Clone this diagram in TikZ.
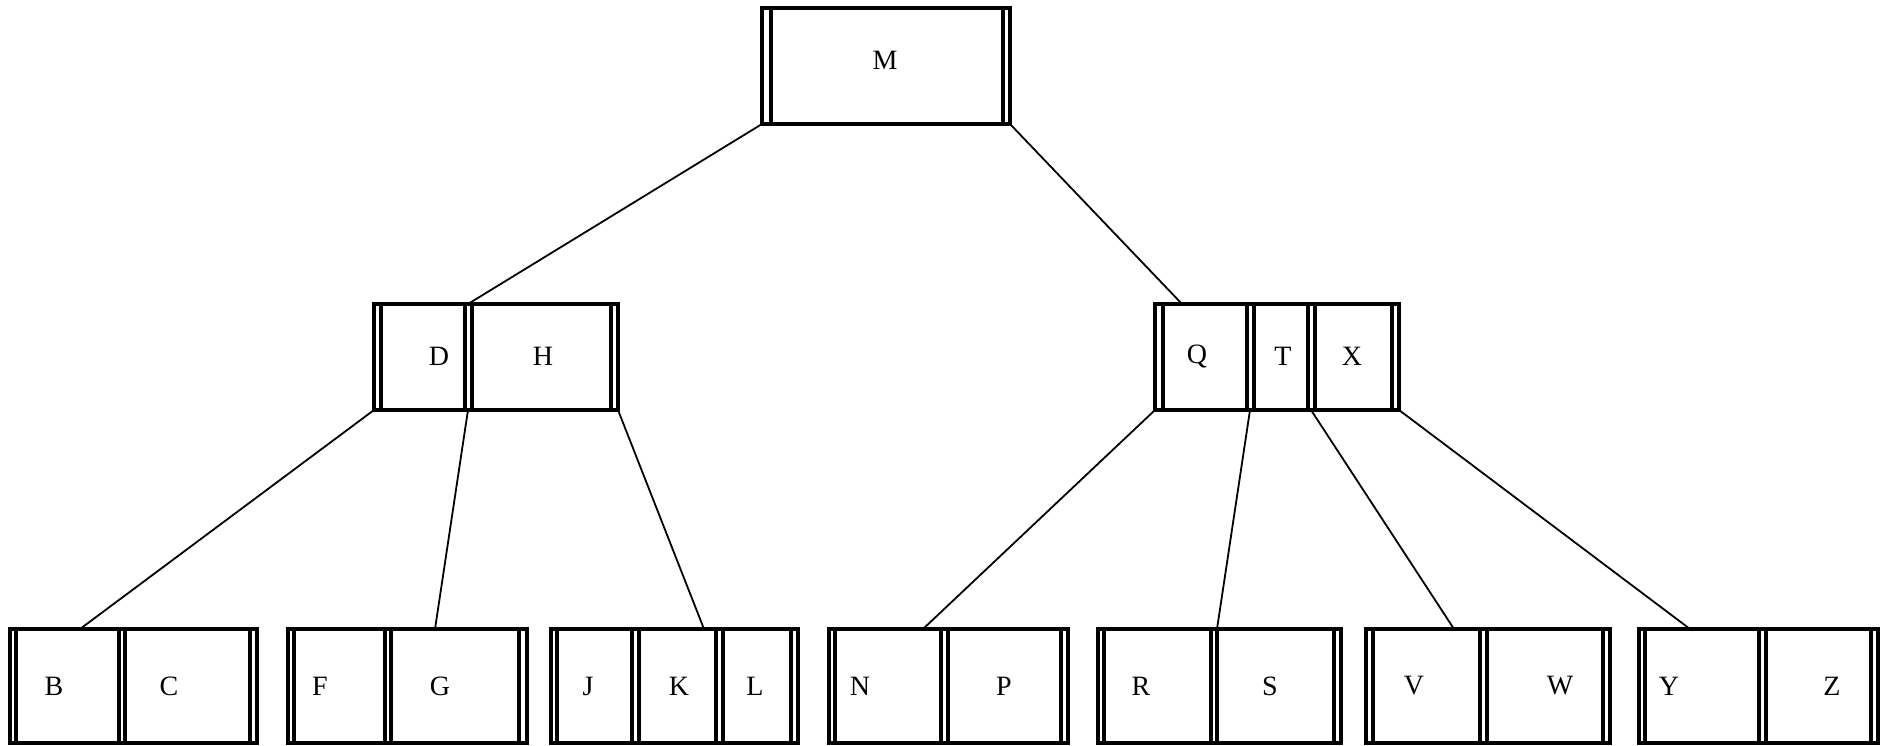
\documentclass[tikz,border=0pt]{standalone}
\usepackage{fontspec}
\setmainfont{Liberation Serif}
\tikzset{
  keyline/.style={line width=1.6pt},
  ptrline/.style={line width=0.9pt},
  key/.style={inner sep=0pt,font=\fontsize{14}{14}\selectfont},
}
\begin{document}
\begin{tikzpicture}[x=0.5pt,y=-0.5pt]
  \useasboundingbox (0,0) rectangle (1884,745);
  % root
  \draw[keyline] (762,8) rectangle (1010,124);
  \foreach \x in {771,1003} \draw[keyline] (\x,8) -- (\x,124);
  \node[key] (m) at (885,60) {M};
  \coordinate (m-p0) at (762,124);
  \coordinate (m-p1) at (1010,124);
  % second level
  \draw[keyline] (374,304) rectangle (618,410);
  \foreach \x in {381,465,472,611} \draw[keyline] (\x,304) -- (\x,410);
  \node[key] (d) at (439,356) {D};
  \node[key] (h) at (543,356) {H};
  \coordinate (dh-top) at (468,304);
  \coordinate (dh-p0) at (374,410);
  \coordinate (dh-p1) at (468,410);
  \coordinate (dh-p2) at (618,410);
  \draw[keyline] (1155,304) rectangle (1399,410);
  \foreach \x in {1163,1247,1254,1308,1315,1392} \draw[keyline] (\x,304) -- (\x,410);
  \node[key] (q) at (1197,356) {Q};
  \node[key] (t) at (1283,356) {T};
  \node[key] (x) at (1352,356) {X};
  \coordinate (qtx-top) at (1182,304);
  \coordinate (qtx-p0) at (1155,410);
  \coordinate (qtx-p1) at (1250,410);
  \coordinate (qtx-p2) at (1311,410);
  \coordinate (qtx-p3) at (1399,410);
  % leaves
  \foreach \l/\r in {10/257,288/527,551/798,829/1068,1098/1341,1366/1610,1639/1878}
    \draw[keyline] (\l,629) rectangle (\r,743);
  \foreach \x in {16,119,125,250,294,385,391,519,557,632,639,716,723,791,
                  835,941,948,1061,1104,1211,1217,1334,1373,1480,1487,1603,
                  1645,1759,1766,1871}
    \draw[keyline] (\x,629) -- (\x,743);
  \foreach \n/\x in {B/54,C/169,F/320,G/440,J/588,K/679,L/755,N/860,P/1004,
                     R/1141,S/1270,V/1414,W/1560,Y/1669,Z/1832}
    \node[key] (leaf-\n) at (\x,686) {\n};
  \coordinate (bc-top) at (80,629);
  \coordinate (fg-top) at (435,629);
  \coordinate (jkl-top) at (704,629);
  \coordinate (np-top) at (923,629);
  \coordinate (rs-top) at (1217,629);
  \coordinate (vw-top) at (1454,629);
  \coordinate (yz-top) at (1690,629);
  % pointers
  \draw[ptrline] (m-p0) -- (dh-top);
  \draw[ptrline] (m-p1) -- (qtx-top);
  \draw[ptrline] (dh-p0) -- (bc-top);
  \draw[ptrline] (dh-p1) -- (fg-top);
  \draw[ptrline] (dh-p2) -- (jkl-top);
  \draw[ptrline] (qtx-p0) -- (np-top);
  \draw[ptrline] (qtx-p1) -- (rs-top);
  \draw[ptrline] (qtx-p2) -- (vw-top);
  \draw[ptrline] (qtx-p3) -- (yz-top);
\end{tikzpicture}
\end{document}
